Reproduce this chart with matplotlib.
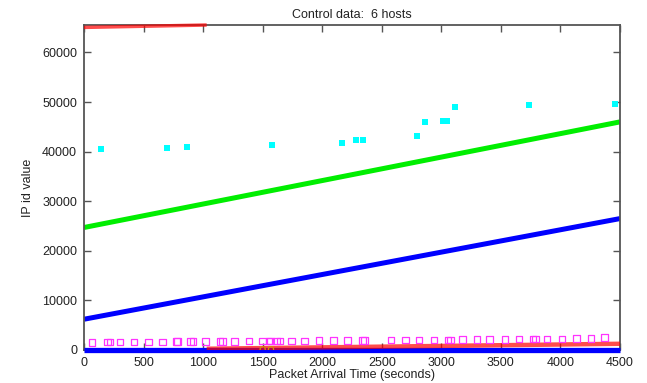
import matplotlib
matplotlib.use("Agg")
import matplotlib.pyplot as plt

plt.rcParams['font.family'] = ['Liberation Sans', 'DejaVu Sans']

# host with steadily increasing IP id (green)
green_x = [0, 4500]
green_y = [24700, 46000]

# second steadily increasing host (blue)
blue_x = [0, 4500]
blue_y = [6200, 26500]

# host with constant IP id 0 (blue, bottom)
zero_x = [0, 4500]
zero_y = [0, 0]

# red host wrapping around at 65535
red_top_x = [0, 1030]
red_top_y = [65050, 65535]
red_bot_x = [1030, 4500]
red_bot_y = [250, 1250]

# magenta open squares
mag_x = [66, 197, 218, 304, 419, 543, 661, 778, 785, 896, 917, 1021, 1142, 1163,
         1263, 1384, 1498, 1554, 1567, 1616, 1644, 1741, 1851, 1972, 2093, 2214,
         2336, 2353, 2578, 2699, 2813, 2938, 3055, 3076, 3176, 3301, 3405, 3536,
         3653, 3768, 3792, 3889, 4014, 4135, 4256, 4370]
mag_y = [1550, 1580, 1580, 1600, 1610, 1630, 1650, 1670, 1670, 1690, 1690, 1700,
         1730, 1730, 1750, 1770, 1790, 1800, 1800, 1810, 1810, 1830, 1850, 1870,
         1890, 1910, 1930, 1930, 1970, 1990, 2010, 2030, 2050, 2050, 2070, 2100,
         2120, 2150, 2170, 2200, 2200, 2220, 2250, 2280, 2320, 2480]

# cyan filled squares
cyan_x = [145, 694, 862, 1581, 2162, 2284, 2340, 2793, 2866, 3017, 3045, 3115, 3739, 4458]
cyan_y = [40470, 40810, 40870, 41270, 41780, 42420, 42420, 43080, 45960, 46110,
          46110, 48980, 49390, 49670]

# orange circles near zero
orange_x = [1500, 1570]
orange_y = [150, 150]

x_ticks = [0, 500, 1000, 1500, 2000, 2500, 3000, 3500, 4000, 4500]
y_ticks = [0, 10000, 20000, 30000, 40000, 50000, 60000]

fig = plt.figure(figsize=(6.47, 3.83), dpi=100)
ax = fig.add_axes([0.1298, 0.0862, 0.8285, 0.8485])

ax.plot(zero_x, zero_y, color='#0000ff', linewidth=3.8, solid_capstyle='butt',
        clip_on=False, zorder=3)
ax.plot(red_bot_x, red_bot_y, color='#ff0000', linewidth=3.2, alpha=0.7,
        solid_capstyle='butt', zorder=3.5)
ax.plot(red_top_x, red_top_y, color='#ff0000', linewidth=2.5, alpha=0.7,
        solid_capstyle='butt', clip_on=False, zorder=3)
ax.plot(blue_x, blue_y, color='#0000ff', linewidth=3.6, solid_capstyle='butt', zorder=2)
ax.plot(green_x, green_y, color='#00ee00', linewidth=3.6, solid_capstyle='butt', zorder=2)
ax.scatter(mag_x, mag_y, marker='s', s=22, facecolors='none', edgecolors='#ff33ff',
           linewidths=0.9, zorder=4)
ax.scatter(cyan_x, cyan_y, marker='s', s=24, color='#00ffff', linewidths=0, zorder=4,
           clip_on=False)
ax.scatter(orange_x, orange_y, marker='o', s=14, facecolors='none', edgecolors='#d09000',
           linewidths=0.9, zorder=5)

ax.set_xlim(0, 4500)
ax.set_ylim(0, 65535)
ax.set_xticks(x_ticks)
ax.set_yticks(y_ticks)
ax.tick_params(direction='in', length=5, width=1, color='#555555', labelsize=9,
               labelcolor='#222222', top=True, right=True, pad=5)
for s in ax.spines.values():
    s.set_color('#555555')
    s.set_linewidth(1.3)

ax.set_title("Control data:  6 hosts", fontsize=9, color='#222222', pad=5)
ax.set_xlabel("Packet Arrival Time (seconds)", fontsize=9, color='#222222', labelpad=0)
ax.set_ylabel("IP id value", fontsize=9, color='#222222', labelpad=6)

fig.savefig("out.png", dpi=100)
